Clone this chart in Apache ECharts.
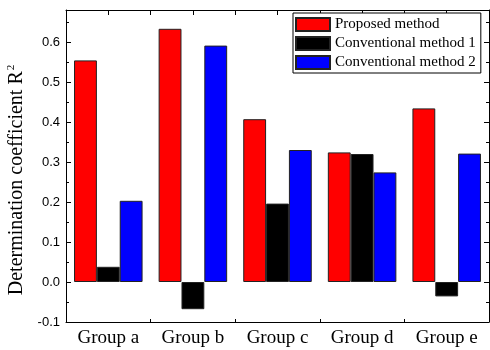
<!DOCTYPE html>
<html>
<head>
<meta charset="utf-8">
<script src="https://cdn.jsdelivr.net/npm/echarts@6/dist/echarts.min.js"></script>
<style>html,body{margin:0;padding:0;background:#fff;}#c{width:490px;height:350px;}</style>
</head>
<body>
<div id="c"></div>
<script>
const categories = ['Group a', 'Group b', 'Group c', 'Group d', 'Group e'];
const seriesNames = ['Proposed method', 'Conventional method 1', 'Conventional method 2'];
const proposed = [0.554, 0.633, 0.407, 0.324, 0.434];
const conv1 = [0.038, -0.068, 0.196, 0.320, -0.036];
const conv2 = [0.203, 0.591, 0.330, 0.274, 0.321];
const colors = ['#ff0000', '#000000', '#0000ff'];
const yMin = -0.1, yMax = 0.68, yInterval = 0.1;

const chart = echarts.init(document.getElementById('c'), null, {renderer: 'canvas'});
const serif = '"Liberation Serif", "Times New Roman", serif';
const sans = '"Liberation Sans", Arial, sans-serif';
const line = {show: true, onZero: false, lineStyle: {color: '#000', width: 1}};
const valuesList = [proposed, conv1, conv2];
chart.setOption({
  backgroundColor: '#fff',
  animation: false,
  grid: {left: 66, right: 1, top: 10, bottom: 28, containLabel: false, outerBoundsMode: 'none'},
  legend: {
    orient: 'vertical', left: 293, top: 13,
    data: seriesNames.map(n => ({name: n, icon: 'rect'})),
    itemWidth: 34, itemHeight: 13, itemGap: 4,
    padding: [4, 5, 3, 2],
    borderColor: '#000', borderWidth: 1, backgroundColor: '#fff',
    textStyle: {fontFamily: serif, fontSize: 15, color: '#000'}
  },
  xAxis: [{
    type: 'category', data: categories, position: 'bottom',
    axisLine: line,
    axisTick: {show: true, inside: true, length: 3, lineStyle: {color: '#000'}},
    axisLabel: {fontFamily: serif, fontSize: 19, color: '#000', margin: 7},
    splitLine: {show: false}
  }, {
    type: 'value', position: 'top', min: 0, max: 5, interval: 0.5,
    axisLine: line,
    axisTick: {show: true, inside: true, length: 5, lineStyle: {color: '#000'}},
    axisLabel: {show: false}, splitLine: {show: false}
  }],
  yAxis: [{
    type: 'value', min: yMin, max: yMax, interval: yInterval,
    name: 'Determination coefficient R{sup|2}', nameLocation: 'middle', nameGap: 34,
    nameTextStyle: {fontFamily: serif, fontSize: 20, color: '#000', padding: [0, 28, 0, 0],
      rich: {sup: {fontFamily: serif, fontSize: 11, color: '#000', verticalAlign: 'top', padding: [0, 0, 12, 1]}}},
    axisLine: line,
    axisTick: {show: true, inside: true, length: 5, lineStyle: {color: '#000'}},
    minorTick: {show: true, splitNumber: 2, length: 3, lineStyle: {color: '#000'}},
    axisLabel: {fontFamily: sans, fontSize: 13, color: '#000', margin: 6, showMaxLabel: false,
      formatter: v => v.toFixed(1)},
    splitLine: {show: false}, minorSplitLine: {show: false}
  }, {
    type: 'value', min: yMin, max: yMax, interval: yInterval, position: 'right',
    axisLine: line,
    axisTick: {show: true, inside: true, length: 5, lineStyle: {color: '#000'}},
    minorTick: {show: true, splitNumber: 2, length: 3, lineStyle: {color: '#000'}},
    axisLabel: {show: false}, splitLine: {show: false}
  }],
  series: seriesNames.map((n, i) => ({
    name: n, type: 'bar', xAxisIndex: 0, yAxisIndex: 0,
    data: valuesList[i],
    barGap: '0%', barCategoryGap: '19%',
    itemStyle: {color: colors[i], borderColor: '#222', borderWidth: 1}
  }))
});
</script>
</body>
</html>
